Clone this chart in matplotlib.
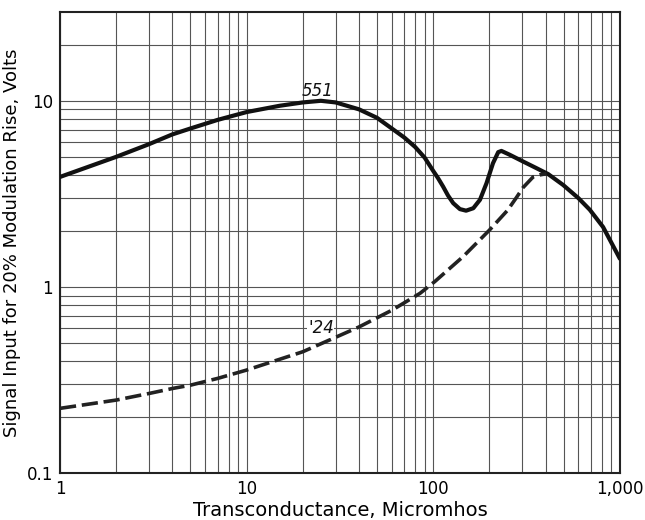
import matplotlib
matplotlib.use("Agg")
import matplotlib.pyplot as plt
from matplotlib.ticker import FixedLocator, NullLocator

# Data
x551 = [1, 2, 3, 4, 5, 7, 10, 15, 20, 25, 30, 40, 50, 60, 70, 80, 90, 100,
        106, 113, 120, 128, 139, 150, 164, 178, 193, 209, 223, 232, 257, 303,
        357, 413, 497, 600, 690, 813, 1000]
y551 = [3.9, 5.0, 5.85, 6.6, 7.1, 7.9, 8.7, 9.4, 9.8, 10.0, 9.8, 9.0, 8.1,
        7.1, 6.35, 5.65, 4.95, 4.2, 3.85, 3.46, 3.1, 2.82, 2.62, 2.57, 2.65,
        2.94, 3.61, 4.62, 5.3, 5.38, 5.13, 4.72, 4.35, 4.04, 3.53, 3.0, 2.6,
        2.1, 1.42]

x24 = [1, 2, 3, 4, 5, 7, 10, 20, 30, 40, 60, 85, 102, 145, 200, 250, 279,
       303, 343, 372, 405]
y24 = [0.223, 0.247, 0.268, 0.285, 0.297, 0.323, 0.358, 0.449, 0.537, 0.61,
       0.75, 0.925, 1.07, 1.46, 2.02, 2.58, 3.02, 3.42, 3.9, 4.0, 4.06]

xticks = [1, 10, 100, 1000]
xticklabels = ["1", "10", "100", "1,000"]
yticks = [0.1, 1, 10]
yticklabels = ["0.1", "1", "10"]

fig = plt.figure(figsize=(6.45, 5.20), dpi=100)
ax = fig.add_axes([0.093, 0.090, 0.868, 0.887])
ax.set_xscale("log")
ax.set_yscale("log")
ax.set_xlim(1, 1000)
ax.set_ylim(0.1, 30)

# grid
minors_x = [m * 10 ** d for d in range(0, 3) for m in range(2, 10)]
minors_y = [m * 10 ** d for d in range(-1, 2) for m in range(2, 10) if m * 10 ** d < 30]
for v in minors_x + xticks:
    ax.axvline(v, color="#555555", lw=0.8, zorder=1)
for v in minors_y + yticks:
    ax.axhline(v, color="#555555", lw=0.8, zorder=1)

ax.plot(x551, y551, color="#111111", lw=3.0, solid_capstyle="round",
        solid_joinstyle="round", zorder=3)
ax.plot(x24, y24, color="#222222", lw=2.6, dashes=(4.5, 1.6), zorder=3)

ax.text(24, 11.3, "551", fontsize=12, style="italic", ha="center", va="center",
        color="#111111", zorder=4)
ax.text(25, 0.6, "'24", fontsize=12, style="italic", ha="center", va="center",
        color="#111111", zorder=4,
        bbox=dict(facecolor="white", edgecolor="none", pad=0.5))

ax.xaxis.set_major_locator(FixedLocator(xticks))
ax.set_xticklabels(xticklabels)
ax.yaxis.set_major_locator(FixedLocator(yticks))
ax.set_yticklabels(yticklabels)
ax.xaxis.set_minor_locator(NullLocator())
ax.yaxis.set_minor_locator(NullLocator())
ax.tick_params(length=0, labelsize=12, pad=5)

for s in ax.spines.values():
    s.set_linewidth(1.5)
    s.set_color("#222222")

ax.set_xlabel("Transconductance, Micromhos", fontsize=14, labelpad=2)
ax.set_ylabel("Signal Input for 20% Modulation Rise, Volts", fontsize=13, labelpad=4)

fig.savefig("out.png", dpi=100)
